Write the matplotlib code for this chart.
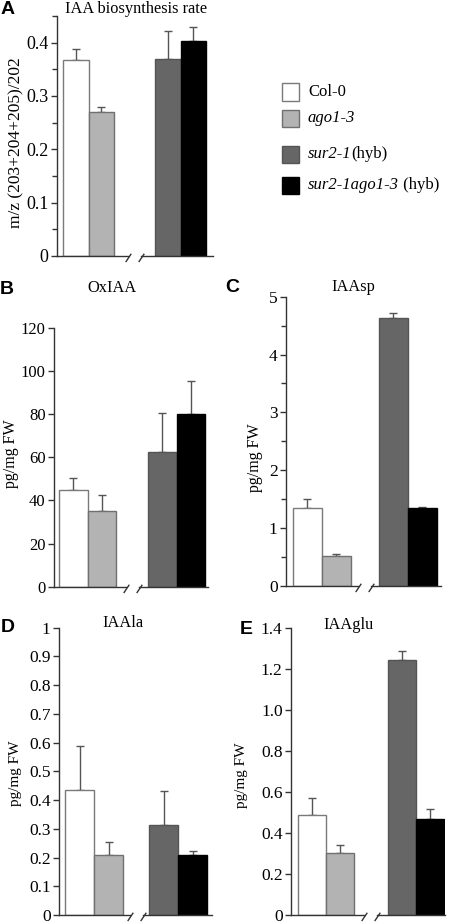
import matplotlib
matplotlib.use("Agg")
import matplotlib.pyplot as plt
from matplotlib.path import Path
from matplotlib.patches import Rectangle
import matplotlib.transforms as mtransforms

# ---------------- data ----------------
genotypes = ["Col-0", "ago1-3", "sur2-1(hyb)", "sur2-1ago1-3 (hyb)"]
bar_colors = ["#ffffff", "#b3b3b3", "#666666", "#000000"]
edge_colors = ["#7a7a7a", "#707070", "#555555", "#000000"]

a_title = "IAA biosynthesis rate"
a_vals = [0.368, 0.270, 0.370, 0.404]
a_err = [0.021, 0.009, 0.052, 0.026]
a_ticks = [0, 0.1, 0.2, 0.3, 0.4]
a_ticklabels = ["0", "0.1", "0.2", "0.3", "0.4"]

b_title = "OxIAA"
b_vals = [44.6, 35.2, 62.5, 80.1]
b_err = [5.9, 7.4, 17.8, 15.3]
b_ticks = [0, 20, 40, 60, 80, 100, 120]
b_ticklabels = ["0", "20", "40", "60", "80", "100", "120"]

c_title = "IAAsp"
c_vals = [1.35, 0.51, 4.63, 1.35]
c_err = [0.16, 0.05, 0.09, 0.02]
c_ticks = [0, 1, 2, 3, 4, 5]
c_ticklabels = ["0", "1", "2", "3", "4", "5"]

d_title = "IAAla"
d_vals = [0.436, 0.208, 0.313, 0.208]
d_err = [0.153, 0.047, 0.119, 0.016]
d_ticks = [0, 0.1, 0.2, 0.3, 0.4, 0.5, 0.6, 0.7, 0.8, 0.9, 1.0]
d_ticklabels = ["0", "0.1", "0.2", "0.3", "0.4", "0.5", "0.6", "0.7", "0.8", "0.9", "1"]

e_title = "IAAglu"
e_vals = [0.489, 0.304, 1.246, 0.468]
e_err = [0.084, 0.037, 0.042, 0.049]
e_ticks = [0, 0.2, 0.4, 0.6, 0.8, 1.0, 1.2, 1.4]
e_ticklabels = ["0", "0.2", "0.4", "0.6", "0.8", "1.0", "1.2", "1.4"]

a_ylabel = "m/z (203+204+205)/202"
conc_ylabel = "pg/mg FW"

# ---------------- layout ----------------
W, H = 450, 924
SERIF = "Liberation Serif"
SANS = "Liberation Sans"

fig = plt.figure(figsize=(W / 100, H / 100), dpi=100)


def rect(l, r, t, b):
    return [l / W, 1 - b / H, (r - l) / W, (b - t) / H]


def fx(x):
    return x / W


def fy(y):
    return 1 - y / H


slash = Path([(-3, -6), (3, 3)], [Path.MOVETO, Path.LINETO])


def panel(box, vals, err, ylim, ticks, ticklabels, minor, title, title_xy,
          ylabel, ylabel_xy, ylabel_size, letter, letter_xy, lm, gap, rm,
          barw_px, tick_size):
    ax = fig.add_axes(rect(*box))
    pos = [0, 1, 2 + gap, 3 + gap]
    ax.bar(pos, vals, width=1.0, color=bar_colors, edgecolor=edge_colors,
           linewidth=1.0, zorder=3)
    ax.errorbar(pos, vals, yerr=[[0] * 4, err], fmt="none", ecolor="#555555",
                elinewidth=1.0, capsize=3, capthick=1.0, zorder=2)
    x0, x1 = -0.5 - lm, 3.5 + gap + rm
    ax.set_xlim(x0, x1)
    ax.set_ylim(*ylim)
    ax.set_yticks(ticks)
    ax.set_yticklabels(ticklabels, family=SERIF, fontsize=tick_size)
    if minor:
        ax.set_yticks(minor, minor=True)
    ax.set_xticks([])
    for s in ["top", "right", "bottom"]:
        ax.spines[s].set_visible(False)
    ax.spines["left"].set_color("#333333")
    ax.spines["left"].set_linewidth(1.0)
    ax.tick_params(axis="y", which="major", direction="out", length=4,
                   width=1.0, color="#333333", pad=2)
    ax.tick_params(axis="y", which="minor", direction="out", length=3.5,
                   width=1.0, color="#333333")
    # broken x axis
    tr = mtransforms.blended_transform_factory(ax.transData, ax.transAxes)
    xb = (1.5 + 1.5 + gap) / 2
    d = 6.5 / barw_px
    ax.plot([x0, xb - d], [0, 0], color="#333333", lw=1.0, transform=tr,
            clip_on=False, zorder=4)
    ax.plot([xb + d, x1], [0, 0], color="#333333", lw=1.0, transform=tr,
            clip_on=False, zorder=4)
    ax.plot([xb - d, xb + d], [0, 0], linestyle="none", marker=slash,
            markersize=8, markeredgewidth=1.0, markeredgecolor="#333333",
            transform=tr, clip_on=False, zorder=4)
    fig.text(fx(title_xy[0]), fy(title_xy[1]), title, family=SERIF,
             fontsize=11.8, ha="center", va="center")
    fig.text(fx(ylabel_xy[0]), fy(ylabel_xy[1]), ylabel, family=SERIF,
             fontsize=ylabel_size, ha="center", va="center", rotation=90)
    fig.text(fx(letter_xy[0]), fy(letter_xy[1]), letter, family=SANS,
             fontweight="bold", fontsize=14, ha="left", va="center")
    return ax


panel((57, 213, 16, 256), a_vals, a_err, (0, 0.45), a_ticks, a_ticklabels,
      [0.05, 0.15, 0.25, 0.35, 0.45], a_title, (136, 9), a_ylabel, (16, 143),
      12.5, "A", (1, 9), 0.24, 1.61, 0.27, 25.5, 13)
panel((54, 208, 327.7, 586.7), b_vals, b_err, (0, 120), b_ticks, b_ticklabels,
      None, b_title, (112, 288), conc_ylabel, (11, 454), 11.5, "B", (0, 289),
      0.18, 1.12, 0.1, 28.5, 12)
panel((286, 441, 296.7, 586), c_vals, c_err, (0, 5), c_ticks, c_ticklabels,
      [0.5, 1.5, 2.5, 3.5, 4.5], c_title, (353, 287), conc_ylabel, (255, 458),
      11.5, "C", (225, 288), 0.24, 0.97, 0.14, 29, 12.5)
panel((59, 212, 627.7, 915), d_vals, d_err, (0, 1.0), d_ticks, d_ticklabels,
      None, d_title, (123, 623), conc_ylabel, (16, 773), 11, "D", (1, 627),
      0.21, 0.9, 0.17, 29, 12.5)
panel((291, 445, 628.3, 915), e_vals, e_err, (0, 1.4), e_ticks, e_ticklabels,
      None, e_title, (348, 625), conc_ylabel, (242, 775), 11, "E", (240, 630),
      0.25, 1.21, 0.04, 28, 12.5)

# ---------------- legend ----------------
legend_rows = [92, 118.5, 154.5, 185.5]
legend_italic = ["", "ago1-3", "sur2-1", "sur2-1ago1-3"]
legend_plain = ["Col-0", "", "(hyb)", " (hyb)"]
renderer = fig.canvas.get_renderer()
for i, yc in enumerate(legend_rows):
    fig.patches.append(Rectangle((fx(282), fy(yc + 8.5)), 17 / W, 17 / H,
                                 transform=fig.transFigure,
                                 facecolor=bar_colors[i],
                                 edgecolor=edge_colors[i], linewidth=1.0))
    x = fx(308)
    if legend_italic[i]:
        t = fig.text(x, fy(yc), legend_italic[i], family=SERIF, style="italic",
                     fontsize=12, ha="left", va="center")
        bb = t.get_window_extent(renderer=renderer)
        x = bb.x1 / (W)
    if legend_plain[i]:
        fig.text(x, fy(yc), legend_plain[i], family=SERIF, fontsize=12,
                 ha="left", va="center")

fig.savefig("out.png", dpi=100)
